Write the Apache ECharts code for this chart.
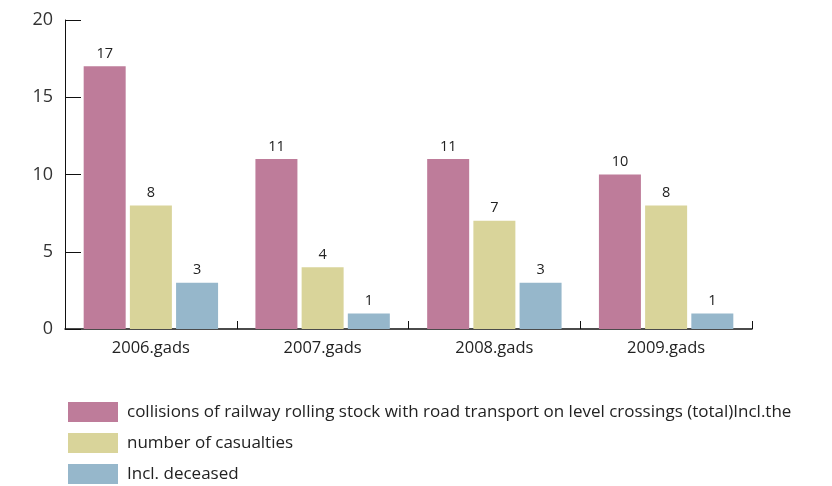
<!DOCTYPE html>
<html><head><meta charset="utf-8">
<script src="https://cdn.jsdelivr.net/npm/echarts@6/dist/echarts.min.js"></script>
<style>html,body{margin:0;padding:0;background:#fff}#c{width:832px;height:486px}</style>
</head><body><div id="c"></div>
<script>
var categories = ['2006.gads','2007.gads','2008.gads','2009.gads'];
var seriesNames = ['collisions of railway rolling stock with road transport on level crossings (total)Incl.the','number of casualties','Incl. deceased'];
var collisions = [17, 11, 11, 10];
var casualties = [8, 4, 7, 8];
var deceased = [3, 1, 3, 1];
var yTicks = [0, 5, 10, 15, 20];
var colors = ['#BE7C9A', '#D9D49A', '#96B7CB'];
var font = 'Open Sans';

var chart = echarts.init(document.getElementById('c'), null, {renderer:'canvas'});
function mk(name, data, color) {
  return {
    name: name, type: 'bar', data: data, barWidth: 42, barGap: '10%',
    itemStyle: {color: color},
    label: {show: true, position: 'top', distance: 5, color: '#222', fontSize: 14.5, fontFamily: font}
  };
}
function lg(i, top) {
  return {
    orient: 'horizontal', left: 63, top: top, itemWidth: 50, itemHeight: 20, padding: 5,
    icon: 'rect', textStyle: {fontSize: 17, color: '#222', fontFamily: font, padding: [0,0,0,4]},
    data: [seriesNames[i]]
  };
}
chart.setOption({
  animation: false,
  grid: {left: 65, right: 80, top: 20, bottom: 157, containLabel: false},
  legend: [lg(0, 397), lg(1, 428), lg(2, 459)],
  xAxis: {
    type: 'category', data: categories,
    axisLine: {lineStyle: {color: '#111', width: 1.5}},
    axisTick: {show: true, inside: true, length: 8, alignWithLabel: false, lineStyle: {color: '#111'}},
    axisLabel: {fontSize: 16.5, color: '#222', fontFamily: font, margin: 11}
  },
  yAxis: {
    type: 'value', min: 0, max: 20, interval: 5,
    splitLine: {show: false},
    axisLine: {show: true, lineStyle: {color: '#111', width: 1}},
    axisTick: {show: true, inside: true, length: 16, lineStyle: {color: '#111'}},
    axisLabel: {fontSize: 18, color: '#333', fontFamily: font, margin: 12,
      formatter: function(v){ return yTicks.indexOf(v) >= 0 ? String(v) : ''; }}
  },
  series: [mk(seriesNames[0], collisions, colors[0]), mk(seriesNames[1], casualties, colors[1]), mk(seriesNames[2], deceased, colors[2])]
});
</script></body></html>
